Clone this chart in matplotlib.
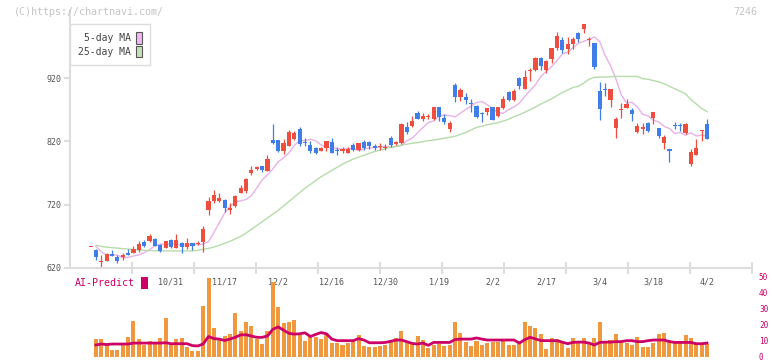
import numpy as np
import pandas as pd
import matplotlib
matplotlib.use('Agg')
import matplotlib.pyplot as plt
from matplotlib.patches import Patch

plt.rcParams['font.family'] = ['DejaVu Sans Mono']

# daily candles (oldest first)
opens = [654, 648, 629, 631.5, 642, 637, 637, 644, 644, 648, 660.5, 662.6, 665.8, 655.8, 652, 664, 652, 659.5,
         652.6, 659.5, 658.5, 661, 711.6, 726, 726, 727, 712, 718, 739, 741.6, 770.5, 776.3, 781, 773, 822, 822,
         805, 813, 824, 839.5, 819, 814, 810, 805, 810, 819.5, 807, 805, 802, 814, 806, 819.5, 819.5, 812.6,
         811.6, 810, 825, 816, 818, 842, 845, 865, 855, 858.5, 855, 874, 857, 839.5, 909.5, 889.5, 890, 880.5,
         876, 864, 866, 874, 860, 872.6, 898, 886, 920, 903, 931, 932, 951.6, 933, 950.5, 967, 979.5, 966, 974,
         991, 998, 981, 975, 899, 902.5, 886, 841, 869.5, 872.6, 869, 834.7, 839, 849, 857, 841, 817.4, 808,
         846, 845, 833, 784, 799, 836.5, 847]
highs = [654, 649.5, 640, 643, 648, 641, 644, 650, 654, 662, 664, 674, 667, 658, 663, 666, 674, 661,
         667, 660, 662, 686.8, 732.6, 743, 738, 729, 722, 735, 751, 762, 780.5, 781, 781.6, 798, 848, 822,
         824, 838, 837, 843, 825, 820, 811, 811, 821, 826, 811, 811, 811, 818, 818, 822, 820, 816,
         818, 816, 828, 820, 849, 851, 860, 868, 864, 863, 875, 875, 863, 852, 912, 904, 896, 887,
         877, 867, 873, 875, 875, 891, 900, 903, 922, 932, 936, 953, 953, 949, 967, 993, 984, 984, 985,
         992, 1005, 985, 975, 913.7, 912, 903, 858, 880, 887, 873, 849, 849, 850, 866, 841, 830, 808,
         850, 849, 849, 808, 824, 838, 855]
lows = [654, 632.6, 619.5, 631, 639, 628, 632, 640, 643, 645, 653, 661, 655, 646, 651, 651, 651, 644,
        650, 648, 656, 644.5, 704, 723, 723.7, 709, 705.6, 716, 738, 739, 767.5, 774, 771, 773, 816, 803,
        800, 812, 822, 812, 813, 802, 800, 804, 805, 801, 798, 801, 801, 804, 804, 806, 808, 806,
        807, 806, 811, 815, 816, 832, 842, 855, 852, 855, 854, 852, 848, 835, 882, 884, 879, 867,
        857, 850, 861, 853, 858, 871, 884, 884, 902, 902, 916, 931, 932, 928, 943, 964, 960, 958, 966,
        977, 991, 971, 935, 854, 892, 875, 826, 857, 872, 852, 833, 832, 835, 848, 826, 808, 788,
        840, 837, 832, 781, 799, 821, 823]
closes = [654, 637, 630, 642, 639.5, 631.5, 641, 641, 650, 658, 655, 670.5, 655, 647.3, 662.6, 653, 664, 652.6,
          659.5, 654, 659.5, 681.6, 725.8, 735, 731, 715, 715, 733.7, 746.8, 760.5, 774.7, 779.5, 774.7, 792, 818, 805,
          818, 834, 832.6, 816, 817, 805, 802, 810, 820.5, 802, 804, 807.5, 807.5, 806, 817, 809, 812.6, 809.5,
          812.6, 811, 814, 819.5, 847, 834, 852.6, 855, 860, 859.5, 874, 859, 851, 849.5, 890, 901.6, 886, 879,
          858.5, 863, 872.6, 854, 874, 886.8, 886, 900, 907, 921.6, 932, 951.6, 938.5, 946.5, 967, 987, 964, 974, 981.6,
          982, 1005, 982, 937, 871.5, 901, 902.6, 856, 870.5, 879.5, 863, 844.7, 843, 837, 866, 828, 826.8, 804,
          845, 844, 847, 802.6, 809.5, 837.5, 824]

# 25-day MA as drawn (from day 1)
ma25 = [656, 654, 653, 652, 651.5, 650.5, 650, 649, 648.5, 648, 647.5, 647, 647, 647, 647, 647, 647, 647, 647,
        648, 649.5, 651, 653, 656, 659, 662, 666, 670, 675, 681, 687, 693, 699, 705, 711, 718, 725, 732, 739,
        746, 752, 758, 764, 769, 774, 779, 784, 788, 792, 795, 798, 801, 804, 806, 808.5, 810.5, 812, 814, 815.5,
        817, 818, 819.5, 821, 822, 823.5, 825, 826.5, 828, 831, 834, 838, 842, 844, 846, 848, 849.5, 852, 855,
        859, 862, 866, 870, 874, 879, 883, 887, 892, 897, 901, 905, 907, 912, 918, 921, 921.5, 921.5, 922,
        922.5, 922.5, 922.5, 922.5, 922.5, 919, 918, 916, 914, 911, 907, 903, 899, 895, 886, 879, 872, 867]

# lower panel (from day 1)
volume = [10.9, 10.9, 7.8, 4.1, 4.1, 7.8, 12.2, 22.2, 10.9, 7.2, 9.7, 9.1, 11.6, 24.1, 8.2, 10.9, 11.6, 6.1, 3.4,
          3.4, 31.8, 49, 17.8, 10.9, 12.8, 14.1, 27.2, 15.9, 21.6,
          19.1, 10.9, 7.8, 15.9, 46.8, 31, 21, 21.8, 22.8, 13.6, 9.7, 12.8, 12.2, 10.9, 13.4, 8.4, 8.4, 7.2, 8.4,
          9.7, 13.4, 6.6, 5.9, 5.9, 6.6, 7.2, 10.3, 11.6, 15.9, 9.1, 7.8, 12.8, 10.3, 5.3, 7.2, 7.8, 6.6, 7.2,
          21.6, 14.7, 9.1, 6.6, 9.7, 7.2, 8.4, 9.1, 9.1, 10.3, 7.2,
          7.2, 9.9, 21.6, 19.1, 17.8, 14.1, 4.7, 11.6, 10.9, 8.4, 5.3, 11.6, 8.4, 11.6, 8.4, 11.6, 21.6, 8.4,
          10.3, 14.1, 8.4, 8.4, 7.2, 12.2, 5.9, 5.9, 8.4, 14.1, 14.7, 10.3, 8.4, 8.4, 13.4, 11.6, 8.4, 8.4, 7.8]
ai_predict = [7.2, 7.8, 7.5, 7.8, 7.8, 7.8, 7.8, 8.4, 8.4, 8.4, 8.4, 8.4, 8.4, 8.6, 8.0, 8.0, 8.0, 8.0, 6.8, 6.6,
              7.8, 12.5, 11.2, 10.9, 10.0, 10.9, 12.0, 13.5, 13.6, 12.8, 12.0, 12.0, 12.8, 17.0, 18.5, 16.5, 14.5,
              14.0, 14.2, 14.8, 12.5, 13.8, 15.0, 14.2, 10.9, 9.9, 9.9, 9.9, 9.9, 11.2, 10.3, 8.6, 8.6, 8.6, 8.8,
              9.5, 10.3, 10.3, 9.3, 8.2, 7.8, 8.4, 7.0, 8.8, 8.8, 8.8, 8.8, 10.6, 10.9, 10.9, 10.9, 11.6, 10.9,
              10.3, 10.3, 10.3, 10.3, 10.3, 10.3, 8.4, 10.5, 12.0, 11.0, 10.0, 9.9, 9.9, 9.9, 9.0, 8.0, 8.8, 9.0,
              9.0, 8.4, 7.2, 8.8, 9.0, 9.0, 9.3, 9.3, 9.9, 9.9, 9.3, 9.3, 9.9, 10.3, 10.3, 10.3, 9.3, 8.8, 8.8,
              8.8, 8.8, 8.0, 8.0, 8.4]

date_labels = ['10/31', '11/17', '12/2', '12/16', '12/30', '1/19', '2/2', '2/17', '3/4', '3/18', '4/2']
label_days = [15, 25, 35, 45, 55, 65, 75, 85, 95, 105, 115]

RED = '#ef4e3e'
BLUE = '#3f7ee8'
GRID = '#dddddd'
CRIMSON = '#cc0066'

W, H = 772, 361
fig = plt.figure(figsize=(W / 100, H / 100), dpi=100)
ax = fig.add_axes([70 / W, 1 - 268 / H, 682 / W, 258 / H])
vax = fig.add_axes([70 / W, 1 - 356.5 / H, 682 / W, 86.5 / H])
for a in (ax, vax):
    a.patch.set_visible(False)

xl, xr = -3.843, 123.4
days = np.arange(len(opens))
o = np.array(opens)
c = np.array(closes)
colors = np.where(c >= o, RED, BLUE)
body_h = np.maximum(np.abs(c - o), 1.6)
body_b = (o + c) / 2 - body_h / 2

ma5 = pd.Series(closes).rolling(5, min_periods=1).mean().shift(1)
ax.plot(days[1:], ma5[1:], color='#e8b2e8', lw=1, zorder=1)
ax.plot(days[1:], ma25, color='#b6dcaa', lw=1, zorder=1)
ax.vlines(days, lows, highs, colors=colors, lw=0.9, zorder=2)
ax.bar(days, body_h, bottom=body_b, width=0.78, color=colors, lw=0, zorder=3)

ax.set_xlim(xl, xr)
ax.set_ylim(620, 620 + 258 / 0.6333)
for s in ['top', 'right']:
    ax.spines[s].set_visible(False)
for s in ['left', 'bottom']:
    ax.spines[s].set_color(GRID)
    ax.spines[s].set_linewidth(1.5)
ax.set_yticks([620, 720, 820, 920])
ax.tick_params(axis='y', colors=GRID, labelcolor='#555555', length=4, width=1.5, labelsize=6, pad=2)
ax.set_xticks(np.linspace(xl, xr, 12)[1:])
ax.set_xticks(label_days, minor=True)
ax.set_xticklabels(date_labels, minor=True)
ax.tick_params(axis='x', which='major', direction='inout', length=8, width=1.5, color=GRID, labelbottom=False)
ax.tick_params(axis='x', which='minor', length=0, pad=7, labelsize=6, labelcolor='#555555')

ax.legend([Patch(facecolor='#f0b8f0', edgecolor='#555555', lw=0.8),
           Patch(facecolor='#c2e2b4', edgecolor='#555555', lw=0.8)],
          ['5-day MA', '25-day MA'], loc='upper left', bbox_to_anchor=(0, 1 - 14 / 258),
          borderaxespad=0, fancybox=False, edgecolor=GRID, framealpha=1, fontsize=7,
          markerfirst=False, handlelength=0.65, handleheight=1.5, labelspacing=0.2,
          handletextpad=0.5, borderpad=0.8, labelcolor='#444444')

vax.bar(days[1:], volume, width=0.75, color='#f0983e', lw=0)
vax.plot(days[1:], ai_predict, color=CRIMSON, lw=2)
vax.set_xlim(xl, xr)
vax.set_ylim(0, 54.1)
for s in vax.spines.values():
    s.set_visible(False)
vax.set_xticks([])
vax.yaxis.tick_right()
vax.set_yticks(range(0, 51, 10))
vax.tick_params(axis='y', length=0, pad=5, labelsize=5.6, labelcolor=CRIMSON)
vax.legend([Patch(facecolor=CRIMSON)], ['AI-Predict'], loc='upper left', bbox_to_anchor=(0.007, 0.92),
           frameon=False, markerfirst=False, handlelength=0.7, handleheight=1.5, fontsize=7.2,
           labelcolor=CRIMSON, borderaxespad=0, borderpad=0, handletextpad=0.6)

fig.text(14 / W, 1 - 12 / H, '(C)https://chartnavi.com/', color='#c4c4c4', fontsize=7.2, va='center')
fig.text(757 / W, 1 - 12 / H, '7246', color='#c4c4c4', fontsize=7.2, va='center', ha='right')

fig.savefig('out.png', dpi=100)
